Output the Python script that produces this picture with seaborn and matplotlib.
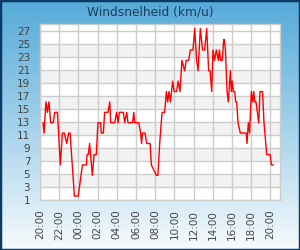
import numpy as np
import pandas as pd
import matplotlib
matplotlib.use("Agg")
import matplotlib.pyplot as plt
from matplotlib.colors import LinearSegmentedColormap
from matplotlib.patches import Rectangle
import seaborn as sns

# ---- data ----
times = ["20:19", "20:25", "20:37", "20:46", "20:56", "21:07", "21:23", "21:32", "21:49",
         "22:07", "22:20", "22:32", "22:47", "22:59", "23:08", "23:35", "23:59",
         "00:25", "00:50", "00:54", "01:02", "01:10", "01:27", "01:38", "01:52",
         "02:02", "02:19", "02:23", "02:36", "02:44", "03:05", "03:16", "03:22", "03:47",
         "03:59", "04:08", "04:16", "04:41", "04:49", "05:02", "05:10", "05:39", "05:46",
         "05:52", "06:17", "06:29", "06:35", "06:40", "06:56", "07:07", "07:28", "07:36",
         "08:07", "08:17", "08:28", "08:43", "08:59", "09:10", "09:18", "09:26", "09:35",
         "09:49", "09:58", "10:14", "10:23", "10:35", "10:47", "11:04", "11:14", "11:29",
         "11:40", "11:56", "12:07", "12:19", "12:28", "12:42", "12:56", "13:09", "13:22",
         "13:34", "13:43", "13:53", "14:01", "14:11", "14:22", "14:35", "14:41", "14:49",
         "14:59", "15:08", "15:12", "15:19", "15:29", "15:37", "15:50", "15:56", "16:02",
         "16:08", "16:17", "16:23", "16:29", "16:38", "16:52", "17:29", "17:34", "17:42",
         "17:50", "18:01", "18:09", "18:16", "18:22", "18:30", "18:47", "18:55", "19:11",
         "19:20", "19:37", "19:58", "20:06", "20:19"]
speeds = [12.9, 11.3, 16.1, 14.5, 16.1, 12.9, 12.9, 14.5, 14.5,
          6.4, 11.3, 11.3, 9.7, 11.3, 11.3, 1.6, 1.6,
          6.4, 6.4, 8.0, 8.0, 9.7, 4.8, 8.0, 8.0,
          12.9, 12.9, 11.3, 11.3, 14.5, 14.5, 16.1, 12.9, 12.9,
          14.5, 12.9, 14.5, 14.5, 12.9, 14.5, 12.9, 12.9, 14.5,
          12.9, 12.9, 11.3, 9.7, 11.3, 11.3, 9.7, 9.7, 6.4,
          4.8, 4.8, 9.7, 14.5, 14.5, 17.7, 16.1, 17.7, 16.1,
          19.3, 17.7, 17.7, 19.3, 17.7, 22.5, 20.9, 22.5, 22.5,
          24.1, 24.1, 27.4, 22.5, 20.9, 27.4, 24.1, 24.1, 27.4,
          20.9, 20.9, 17.7, 24.1, 22.5, 24.1, 22.5, 24.1, 22.5,
          22.5, 25.7, 25.7, 24.1, 17.7, 16.1, 20.9, 17.7, 19.3,
          17.7, 17.7, 16.1, 16.1, 12.9, 11.3, 11.3, 9.7, 12.9,
          11.3, 17.7, 16.1, 17.7, 16.1, 16.1, 12.9, 17.7, 17.7,
          12.9, 8.0, 8.0, 6.4, 6.4]
y_ticks = list(range(1, 28, 2))
x_tick_labels = ["20:00", "22:00", "00:00", "02:00", "04:00", "06:00", "08:00",
                 "10:00", "12:00", "14:00", "16:00", "18:00", "20:00"]
title = "Windsnelheid (km/u)"

sns.set_style("white")
plt.rcParams['font.family'] = ['DejaVu Sans']

base = pd.Timestamp("2024-01-01")
stamps = []
day = 0
prev = None
for t in times:
    ts = base + pd.Timedelta(days=day) + pd.to_timedelta(t + ":00")
    if prev is not None and ts < prev:
        day += 1
        ts += pd.Timedelta(days=1)
    stamps.append(ts)
    prev = ts
df = pd.DataFrame({"tijd": stamps, "snelheid": speeds})
start = base + pd.Timedelta(hours=20)

fig = plt.figure(figsize=(3, 2.5), dpi=100)

# background gradient + border
bg = fig.add_axes([0, 0, 1, 1], zorder=-10)
grad = np.linspace(0, 1, 256).reshape(-1, 1)
cmap = LinearSegmentedColormap.from_list("bg", ["#55aad8", "#a3d1ea", "#f7fbfd"])
bg.imshow(grad, aspect="auto", cmap=cmap, extent=[0, 1, 0, 1], origin="upper")
bg.add_patch(Rectangle((0, 0), 1, 1, transform=bg.transAxes, fill=False,
                       edgecolor="#0c3a68", lw=2.5))
bg.set_xlim(0, 1)
bg.set_ylim(0, 1)
bg.set_axis_off()

ax = fig.add_axes([40 / 300, 50 / 250, 240 / 300, 176 / 250])
ax.set_facecolor("white")
for lo in range(3, 25, 4):
    ax.axhspan(lo, lo + 2, color="#f2f2f2", zorder=0.2, lw=0)

sns.lineplot(data=df, x="tijd", y="snelheid", ax=ax, color="#ff0000", lw=1.0)

ax.set_xlim(start, start + pd.Timedelta(hours=25))
ax.set_ylim(1, 28.1)
ax.set_yticks(y_ticks)
xt = pd.date_range(start, periods=len(x_tick_labels), freq="2h")
ax.set_xticks(xt)
ax.set_xticklabels(x_tick_labels, rotation=90)
ax.grid(True, color="#cccccc", lw=1.0)
ax.set_axisbelow(True)
for s in ax.spines.values():
    s.set_color("#cccccc")
    s.set_linewidth(1.0)
ax.tick_params(length=0, pad=7, labelsize=7.5, labelcolor="#444444")
ax.set_xlabel("")
ax.set_ylabel("")

fig.text(0.5, 1 - 12 / 250, title, ha="center", va="center",
         color="#1b3d5e", fontsize=8.8)

fig.savefig("out.png", dpi=100)
